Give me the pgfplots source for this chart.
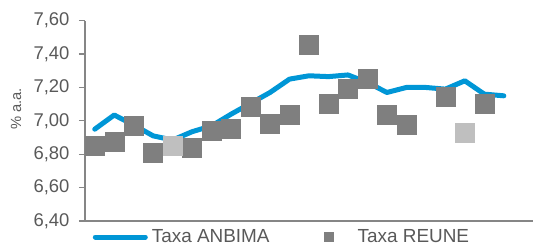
\documentclass[border=0pt]{standalone}
\usepackage{fontspec}
\setmainfont{Liberation Sans}
\usepackage{pgfplots}
\pgfplotsset{compat=1.18}
\definecolor{anbima}{RGB}{0,150,214}
\definecolor{darksq}{RGB}{127,127,127}
\definecolor{lightsq}{RGB}{191,191,191}
\definecolor{axgray}{RGB}{134,134,134}
\definecolor{txtgray}{RGB}{89,89,89}
\begin{document}
\begin{tikzpicture}
\begin{axis}[
  scale only axis, width=448bp, height=200.3bp,
  xmin=-0.5, xmax=22.5, ymin=6.4, ymax=7.6,
  axis x line*=bottom, axis y line*=left,
  xtick=\empty,
  ytick={6.4,6.6,6.8,7.0,7.2,7.4,7.6},
  tick align=outside, major tick length=6bp,
  tick style={axgray, line width=1.3bp},
  axis line style={axgray, line width=1.5bp},
  y tick label style={font=\fontsize{18.5}{22}\selectfont, text=txtgray, xshift=-6bp,
    /pgf/number format/fixed, /pgf/number format/fixed zerofill,
    /pgf/number format/precision=2, /pgf/number format/use comma,
    /pgf/number format/assume math mode=true},
  ylabel={\% a.a.},
  ylabel style={at={(axis description cs:-0.154,0.56)}, anchor=center,
    font=\fontsize{14.8}{17}\selectfont, text=txtgray},
  clip=false,
  legend style={at={(axis description cs:0.017,-0.08)}, anchor=west,
    draw=none, fill=none, inner sep=0pt, legend columns=2,
    font=\fontsize{19}{22}\selectfont, text=txtgray,
    nodes={inner sep=0pt},
    /tikz/every odd column/.append style={column sep=4bp},
    /tikz/every even column/.append style={column sep=54bp}},
]
\addplot[anbima, line width=5bp, line cap=round, line join=round, mark=none,
  legend image code/.code={\draw[anbima, line width=5bp, line cap=round] (0bp,0bp) -- (50bp,0bp);}]
  coordinates {
  (0,6.95) (1,7.035) (2,6.975) (3,6.91) (4,6.885) (5,6.935) (6,6.97)
  (7,7.04) (8,7.105) (9,7.17) (10,7.25) (11,7.27) (12,7.265) (13,7.275)
  (14,7.23) (15,7.17) (16,7.20) (17,7.20) (18,7.19) (19,7.24) (20,7.16) (21,7.15)
  };
\addlegendentry{Taxa ANBIMA}
\addplot[darksq, only marks, mark=square*, mark size=9.5bp, mark options={fill=darksq, draw=none},
  legend image code/.code={\fill[darksq, draw=none] (0bp,-5bp) rectangle (10bp,5bp); \path[draw=none] (0bp,0bp) -- (30bp,0bp);}]
  coordinates {
  (0,6.85) (1,6.875) (2,6.97) (3,6.81) (5,6.84) (6,6.94) (7,6.955)
  (8,7.085) (9,6.985) (10,7.035) (11,7.455) (12,7.10) (13,7.195) (14,7.255)
  (15,7.035) (16,6.975) (18,7.145) (20,7.10)
  };
\addlegendentry{Taxa REUNE}
\addplot[lightsq, only marks, forget plot, mark=square*, mark size=9.5bp, mark options={fill=lightsq, draw=none}]
  coordinates {(4,6.85) (19,6.93)};
\coordinate (O) at (rel axis cs:0,0);
\end{axis}
\pgfresetboundingbox
\path (O) ++(-85bp,-25bp) rectangle ++(533bp,246bp);
\end{tikzpicture}
\end{document}
